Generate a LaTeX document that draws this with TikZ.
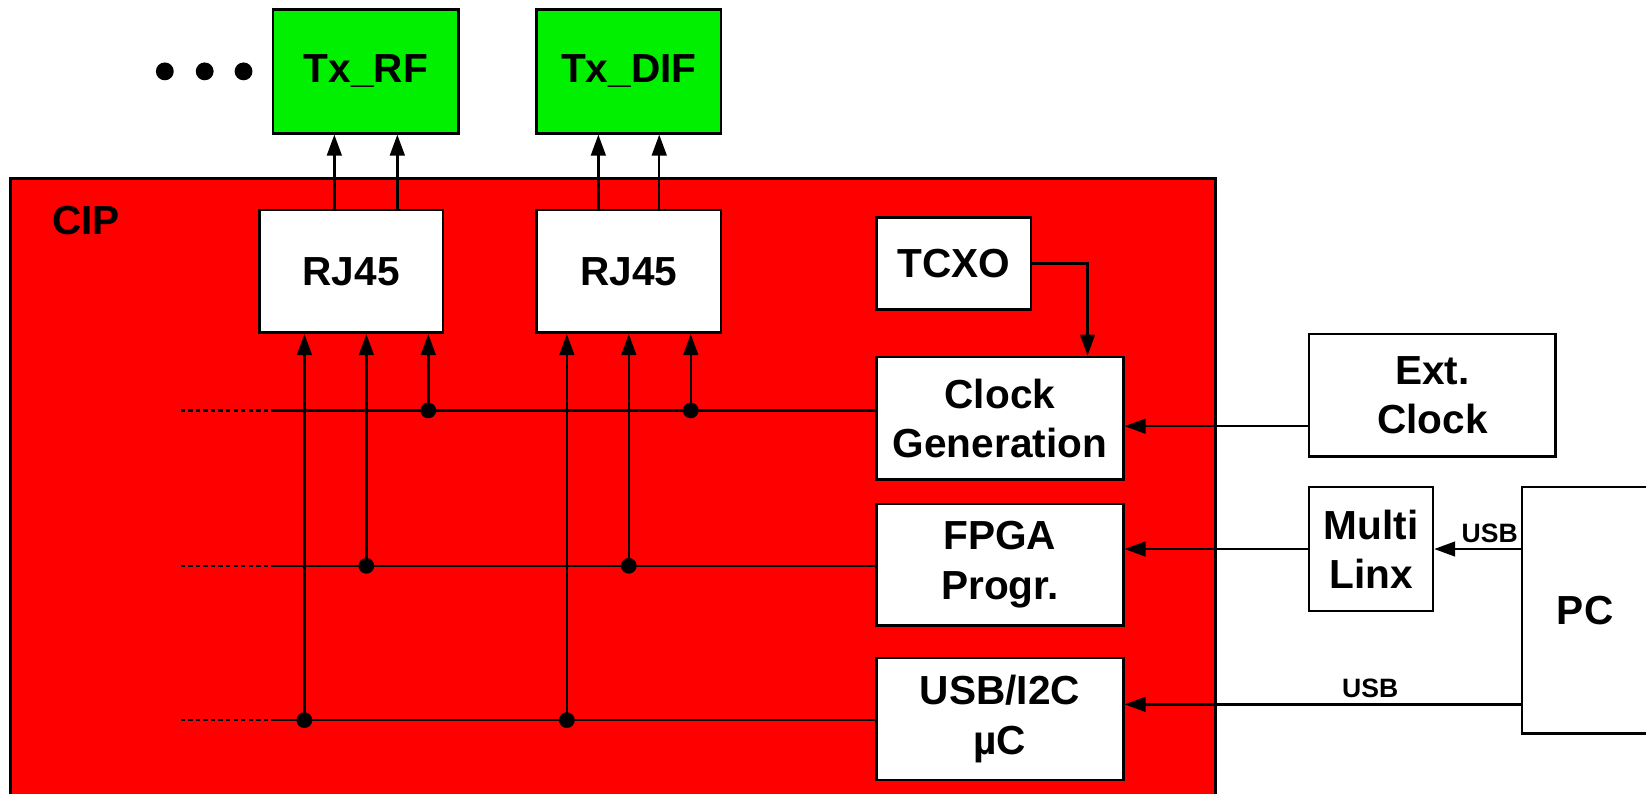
\documentclass[tikz,border=0pt]{standalone}
\usepackage{fontspec}
\setmainfont{Liberation Sans}
\usetikzlibrary{arrows.meta,positioning}
\definecolor{cipred}{HTML}{FF0000}
\definecolor{txgreen}{HTML}{00F000}

\begin{document}
\begin{tikzpicture}[
  blk/.style={draw,fill=white,line width=0.7pt,inner sep=0pt,align=center,font=\bfseries\fontsize{11}{13.4}\selectfont},
  txblk/.style={blk,fill=txgreen},
  wire/.style={line width=0.65pt},
  arr/.style={wire,-{Triangle[length=2mm,width=1.4mm]}},
  usb/.style={font=\bfseries\fontsize{7.2}{8}\selectfont,inner sep=0.5mm}]

  \useasboundingbox (0,0) rectangle (15.68,7.56);
  \clip (0,0) rectangle (15.68,7.56);

  \draw[fill=cipred,line width=0.7pt] (0.10,-0.3) rectangle (11.58,5.86);
  \node[font=\bfseries\fontsize{11}{13}\selectfont] (cip) at (0.82,5.46) {CIP};

  \node[txblk,minimum width=1.77cm,minimum height=1.18cm] (txrf)  at (3.485,6.88) {Tx\_RF};
  \node[txblk,minimum width=1.76cm,minimum height=1.18cm] (txdif) at (5.99,6.88)  {Tx\_DIF};
  \foreach \x in {1.57,1.95,2.32}
    \fill (\x,6.88) circle (0.085);

  \node[blk,minimum width=1.75cm,minimum height=1.17cm] (rjA) at (3.345,4.975) {RJ45};
  \node[blk,minimum width=1.76cm,minimum height=1.17cm] (rjB) at (5.99,4.975)  {RJ45};
  \node[blk,minimum width=1.47cm,minimum height=0.88cm] (tcxo)   at (9.085,5.05) {TCXO};
  \node[blk,minimum width=2.35cm,minimum height=1.17cm] (clkgen) at (9.525,3.575) {Clock\\Generation};
  \node[blk,minimum width=2.35cm,minimum height=1.16cm] (fpga)   at (9.525,2.18) {FPGA\\Progr.};
  \node[blk,minimum width=2.35cm,minimum height=1.16cm] (usbc)   at (9.525,0.71) {USB/I2C\\µC};

  \node[blk,minimum width=2.35cm,minimum height=1.17cm] (extclk) at (13.645,3.795) {Ext.\\Clock};
  \node[blk,minimum width=1.18cm,minimum height=1.18cm] (mlinx)  at (13.06,2.33) {Multi\\Linx};
  \node[blk,minimum width=1.20cm,minimum height=2.35cm] (pc)     at (15.10,1.745) {PC};

  \coordinate (t1) at ([xshift=-3mm]txrf.south);
  \coordinate (t2) at ([xshift=3mm]txrf.south);
  \coordinate (t3) at ([xshift=-2.9mm]txdif.south);
  \coordinate (t4) at ([xshift=2.9mm]txdif.south);
  \draw[arr] (t1 |- rjA.north) -- (t1);
  \draw[arr] (t2 |- rjA.north) -- (t2);
  \draw[arr] (t3 |- rjB.north) -- (t3);
  \draw[arr] (t4 |- rjB.north) -- (t4);

  \coordinate (b1) at (2.58,3.65);
  \coordinate (b2) at (2.58,2.17);
  \coordinate (b3) at (2.58,0.70);
  \foreach \b/\n in {b1/clkgen,b2/fpga,b3/usbc}{
    \draw[wire,dash pattern=on 1.2pt off 0.85pt] ([xshift=-8.6mm]\b) -- (\b);
    \draw[wire] (\b) -- (\b -| \n.west);
  }

  \foreach \x/\y/\n in {4.08/3.65/rjA,6.58/3.65/rjB,3.49/2.17/rjA,5.99/2.17/rjB,2.90/0.70/rjA,5.40/0.70/rjB}{
    \coordinate (j) at (\x,\y);
    \draw[arr] (j) -- (j |- \n.south);
    \fill (j) circle (0.075);
  }

  \coordinate (tc) at (10.36,0);
  \draw[arr] (tcxo.east) -| (tc |- clkgen.north);

  \coordinate (ye) at (0,3.50);
  \draw[arr] (extclk.west |- ye) -- (clkgen.east |- ye);
  \draw[arr] (mlinx.west) -- (fpga.east |- mlinx.west);
  \draw[arr] (pc.west |- mlinx.east) -- node[usb,above,pos=0.36] {USB} (mlinx.east);
  \coordinate (yu) at (0,0.85);
  \draw[arr] (pc.west |- yu) -- node[usb,above,pos=0.38] {USB} (usbc.east |- yu);
\end{tikzpicture}
\end{document}
